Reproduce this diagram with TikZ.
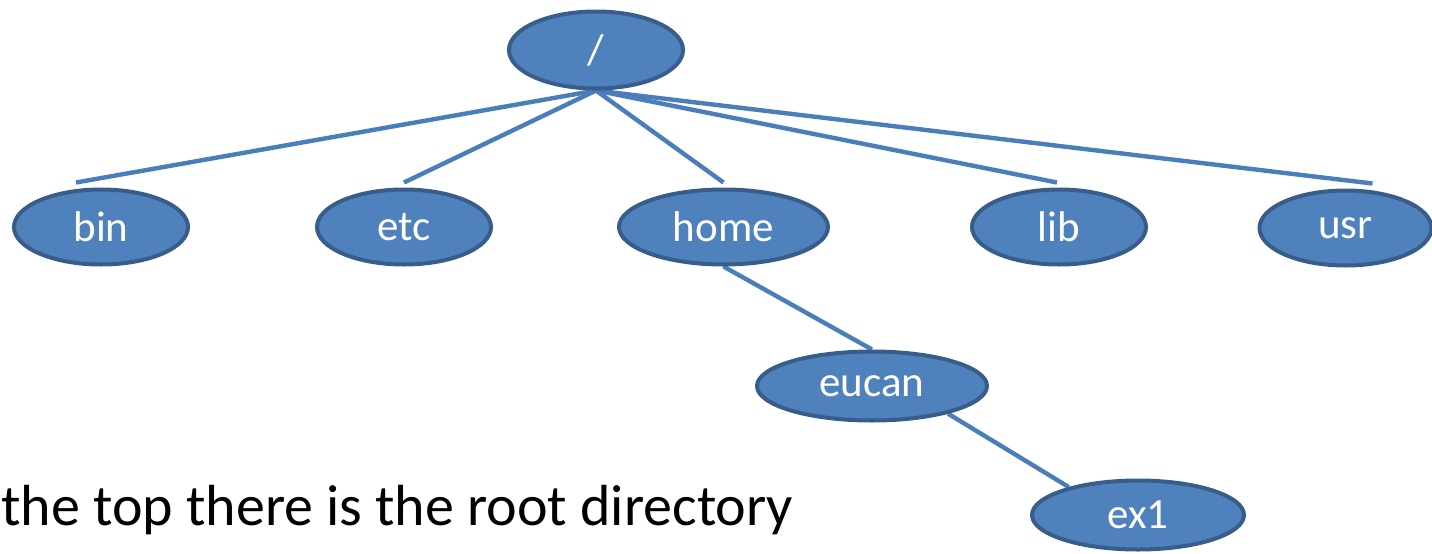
\documentclass[tikz,border=0pt]{standalone}
\usepackage{fontspec}
\setmainfont{Carlito}
\usetikzlibrary{shapes.geometric,backgrounds}
\definecolor{dirfill}{HTML}{4F81BD}
\definecolor{dirdraw}{HTML}{385D8A}
\definecolor{linkcol}{HTML}{4A7EBB}
\tikzset{
  dir/.style={ellipse, fill=dirfill, draw=dirdraw, line width=2pt, inner sep=0pt,
    text=white, font=\fontsize{21.5}{24}\selectfont, minimum height=37.5pt},
  link/.style={draw=linkcol, line width=2.2pt},
}
\begin{document}
\begin{tikzpicture}[x=0.5pt,y=-0.5pt]
\useasboundingbox (0,0) rectangle (1432,553);
\node[dir, minimum width=87pt, minimum height=38.5pt] (root) at (596,50) {/};
\node[dir, minimum width=87pt] (bin) at (101,227) {bin};
\node[dir, minimum width=87pt] (etc) at (404,227) {etc};
\node[dir, minimum width=104.5pt] (home) at (723.5,227) {home};
\node[dir, minimum width=87pt] (lib) at (1059,227) {lib};
\node[dir, minimum width=86pt] (usr) at (1345.5,228) {usr};
\node[dir, minimum width=115pt, minimum height=34.5pt] (eucan) at (872,386) {eucan};
\node[dir, minimum width=106pt, minimum height=34.5pt] (ex1) at (1138,515) {ex1};
\node[anchor=base west, inner sep=0pt, font=\fontsize{29}{33}\selectfont] (note) at (1,525) {the top there is the root directory};
\begin{scope}[on background layer]
\draw[link] (root.south) -- ([xshift=-12.5pt,yshift=2.5pt]bin.north);
\draw[link] (root.south) -- ([yshift=2.5pt]etc.north);
\draw[link] (root.south) -- ([yshift=2.5pt]home.north);
\draw[link] (root.south) -- ([xshift=-1pt,yshift=2.5pt]lib.north);
\draw[link] (root.south) -- ([xshift=13.5pt,yshift=2.5pt]usr.north);
\draw[link] (home.south) -- (eucan.north);
\draw[link] (eucan.-20) -- (ex1.158);
\end{scope}
\end{tikzpicture}
\end{document}
